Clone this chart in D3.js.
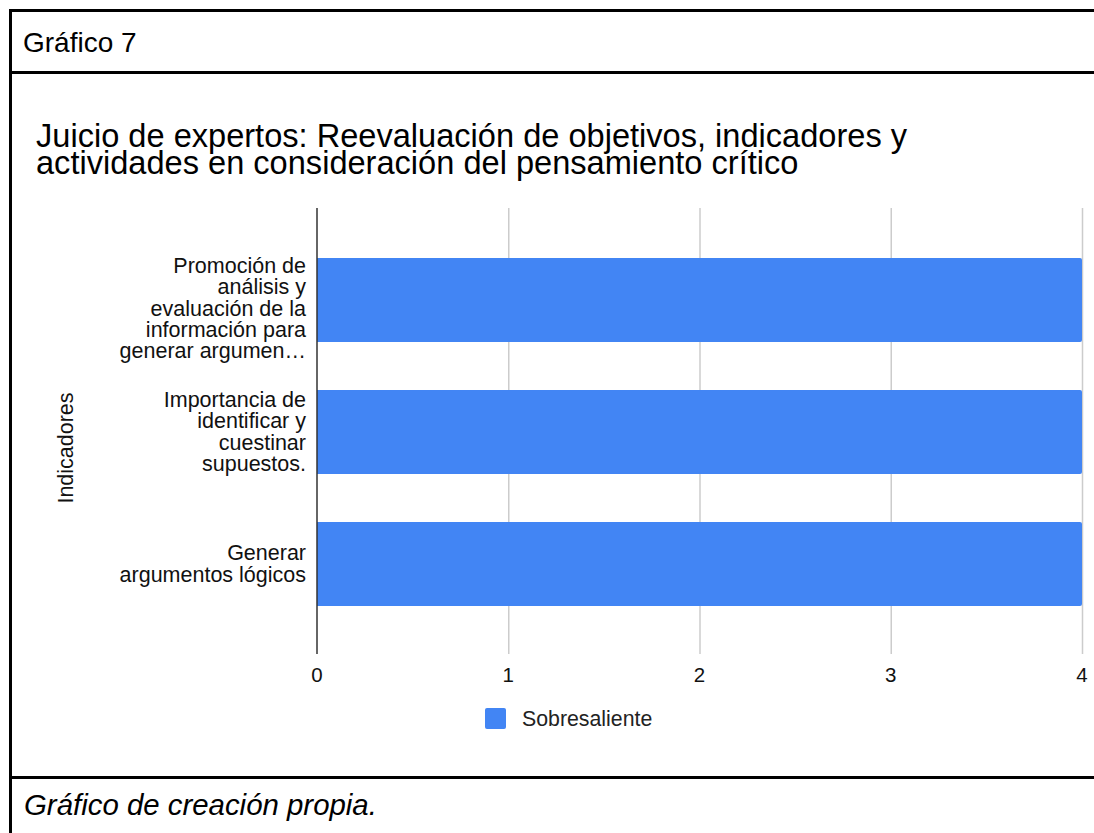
<!DOCTYPE html>
<html>
<head>
<meta charset="utf-8">
<script src="https://cdn.jsdelivr.net/npm/d3@7"></script>
<style>
	body { margin: 0; background: #fff; }
	svg { display: block; font-family: "Liberation Sans", Arial, sans-serif; }
</style>
</head>
<body>
<svg id="chart" width="1094" height="833"></svg>
<script>
// data
var categories = ["Promoción", "Importancia", "Generar"];
var categoryLines = [
	["Promoción de", "análisis y", "evaluación de la", "información para", "generar argumen…"],
	["Importancia de", "identificar y", "cuestinar", "supuestos."],
	["Generar", "argumentos lógicos"]
];
var values = [4, 4, 4];
var xTicks = [0, 1, 2, 3, 4];
var seriesName = "Sobresaliente";

var titleLines = [
	"Juicio de expertos: Reevaluación de objetivos, indicadores y",
	"actividades en consideración del pensamiento crítico"
];

var svg = d3.select("#chart");
var width = 1094, height = 833;

var plot = { left: 317, right: 1082, top: 208, bottom: 654 };

var x = d3.scaleLinear()
	.domain([0, 4])
	.range([plot.left, plot.right]);

var y = d3.scaleBand()
	.domain(categories)
	.range([234, 630])
	.paddingInner(0.364)
	.paddingOuter(0.182);

// frame of the table
var frame = svg.append("g")
	.attr("stroke", "#000")
	.attr("stroke-width", 3);
frame.append("line").attr("x1", 10.5).attr("x2", 10.5).attr("y1", 9).attr("y2", height);
frame.append("line").attr("x1", 9).attr("x2", width).attr("y1", 10.5).attr("y2", 10.5);
frame.append("line").attr("x1", 9).attr("x2", width).attr("y1", 72.5).attr("y2", 72.5);
frame.append("line").attr("x1", 9).attr("x2", width).attr("y1", 777.5).attr("y2", 777.5);

svg.append("text")
	.attr("x", 23)
	.attr("y", 52)
	.style("font-size", "28px")
	.text("Gráfico 7");

svg.append("text")
	.attr("x", 24)
	.attr("y", 815)
	.style("font-size", "29.4px")
	.style("font-style", "italic")
	.text("Gráfico de creación propia.");

// chart title
svg.append("g")
	.selectAll("text")
	.data(titleLines)
.enter().append("text")
	.attr("x", 36)
	.attr("y", (d, i) => 146.5 + i * 27)
	.style("font-size", "32.6px")
	.style("fill", "#000")
	.text((d) => d);

// gridlines
svg.append("g")
	.selectAll("line")
	.data(xTicks.slice(1))
.enter().append("line")
	.attr("x1", (d) => x(d) + 0.5)
	.attr("x2", (d) => x(d) + 0.5)
	.attr("y1", plot.top)
	.attr("y2", plot.bottom)
	.attr("stroke", "#cccccc")
	.attr("stroke-width", 1.5);

// bars
svg.append("g")
	.selectAll("path")
	.data(values)
.enter().append("path")
	.attr("d", (d, i) => {
		var x0 = x(0), x1 = x(d), y0 = y(categories[i]), h = y.bandwidth(), r = 2;
		return "M" + x0 + "," + y0 +
			"H" + (x1 - r) + "Q" + x1 + "," + y0 + " " + x1 + "," + (y0 + r) +
			"V" + (y0 + h - r) + "Q" + x1 + "," + (y0 + h) + " " + (x1 - r) + "," + (y0 + h) +
			"H" + x0 + "Z";
	})
	.attr("fill", "#4285f4");

// baseline axis
svg.append("line")
	.attr("x1", x(0))
	.attr("x2", x(0))
	.attr("y1", plot.top)
	.attr("y2", plot.bottom)
	.attr("stroke", "#333")
	.attr("stroke-width", 1.5);

// x tick labels
svg.append("g")
	.selectAll("text")
	.data(xTicks)
.enter().append("text")
	.attr("x", (d) => x(d))
	.attr("y", 682)
	.attr("text-anchor", "middle")
	.style("font-size", "20.5px")
	.style("fill", "#111")
	.text((d) => d);

// category labels, centred on the bar but kept below its top edge
var lineH = 21.3;
categoryLines.forEach((lines, i) => {
	var barTop = y(categories[i]);
	var mid = barTop + y.bandwidth() / 2;
	var first = mid - (lines.length - 1) * lineH / 2 + 7;
	first = Math.max(first, barTop + 15);
	svg.append("g")
		.selectAll("text")
		.data(lines)
	.enter().append("text")
		.attr("x", 306)
		.attr("y", (d, j) => first + j * lineH)
		.attr("text-anchor", "end")
		.style("font-size", "21.5px")
		.style("fill", "#111")
		.text((d) => d);
});

// axis title
svg.append("text")
	.attr("transform", "translate(73,448) rotate(-90)")
	.attr("text-anchor", "middle")
	.style("font-size", "21.5px")
	.style("fill", "#111")
	.text("Indicadores");

// legend
var legend = svg.append("g").attr("transform", "translate(485,708)");
legend.append("rect")
	.attr("width", 21)
	.attr("height", 21)
	.attr("rx", 2)
	.attr("fill", "#4285f4");
legend.append("text")
	.attr("x", 37)
	.attr("y", 18)
	.style("font-size", "21.3px")
	.style("fill", "#222")
	.text(seriesName);
</script>
</body>
</html>
